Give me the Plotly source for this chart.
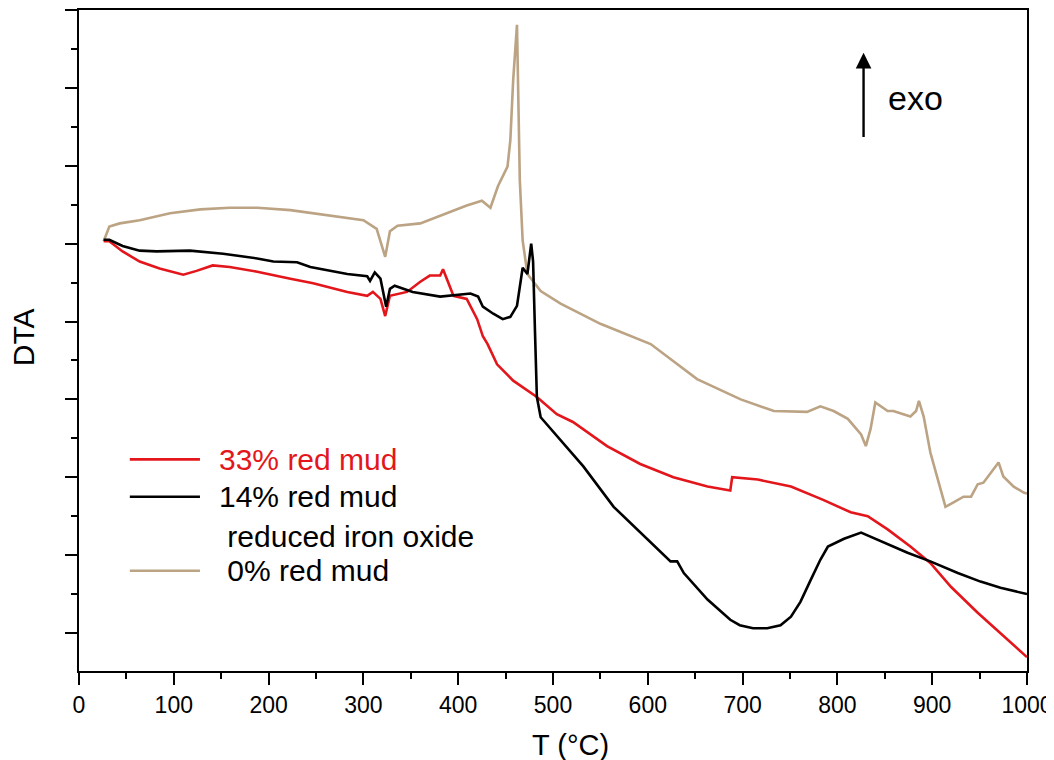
import plotly.graph_objects as go

# ---- data (DTA in arbitrary units) ----
T_0 = [26, 32, 43, 64, 96, 128, 159, 188, 223, 247, 300, 314, 323, 328, 336, 360, 388, 409, 425, 434,
       442, 452, 455, 458, 462, 463, 465, 468, 473, 487, 508, 550, 603, 652, 698, 733, 768, 782, 796, 811,
       825, 830, 835, 840, 853, 859, 877, 883, 886, 891, 898, 906, 914, 923, 933, 941, 948, 954, 962, 970,
       975, 986, 997, 1000]
DTA_0 = [50.3, 52.2, 52.6, 53.0, 53.9, 54.4, 54.6, 54.6, 54.3, 53.9, 53.0, 51.9, 48.3, 51.6, 52.3, 52.6, 53.9, 54.9, 55.5, 54.6,
         57.4, 59.9, 63.3, 71.0, 78.1, 71.0, 58.1, 50.4, 46.1, 43.9, 42.3, 39.7, 37.1, 32.6, 30.0, 28.5, 28.4, 29.1, 28.5, 27.5,
         25.5, 24.0, 26.2, 29.6, 28.5, 28.5, 27.8, 28.5, 29.8, 27.8, 23.2, 19.7, 16.2, 16.8, 17.5, 17.5, 19.1, 19.3, 20.6, 21.9,
         20.1, 18.8, 18.0, 17.9]

T_33 = [26, 32, 46, 64, 85, 110, 124, 141, 159, 188, 223, 247, 283, 304, 310, 318, 323, 328, 346, 360,
        370, 381, 384, 388, 395, 409, 420, 426, 431, 441, 458, 483, 504, 521, 557, 592, 627, 663, 687, 689,
        716, 751, 785, 814, 832, 853, 877, 898, 920, 948, 972, 1000]
DTA_33 = [50.3, 50.3, 49.0, 47.7, 46.8, 46.0, 46.5, 47.2, 47.0, 46.4, 45.5, 44.9, 43.8, 43.3, 43.8, 42.9, 40.7, 43.3, 43.8, 45.1,
          45.9, 45.9, 46.7, 45.5, 43.3, 42.9, 40.3, 38.1, 37.1, 34.5, 32.4, 30.3, 28.1, 27.1, 24.0, 21.7, 20.0, 18.8, 18.3, 20.0,
          19.7, 18.8, 17.1, 15.5, 15.0, 13.3, 11.1, 9.0, 5.9, 2.6, 0.0, -3.1]

T_14 = [26, 32, 46, 64, 82, 117, 152, 188, 205, 230, 244, 283, 304, 307, 312, 318, 324, 328, 333, 352,
        381, 413, 421, 426, 437, 447, 455, 462, 468, 473, 477, 479, 481, 483, 487, 500, 504, 532, 564, 592,
        624, 631, 638, 663, 687, 697, 711, 726, 740, 751, 761, 771, 782, 790, 807, 825, 849, 874, 898, 927,
        951, 972, 1000]
DTA_14 = [50.5, 50.5, 49.7, 49.1, 49.0, 49.1, 48.7, 48.1, 47.7, 47.6, 47.0, 46.1, 45.8, 45.2, 46.3, 45.5, 41.9, 44.2, 44.6, 43.8,
          43.2, 43.6, 43.2, 41.9, 41.0, 40.3, 40.6, 42.0, 46.9, 46.1, 50.0, 47.7, 38.7, 30.3, 27.7, 25.9, 25.3, 21.4, 16.2, 12.9,
          9.2, 9.2, 7.7, 4.3, 1.7, 1.0, 0.6, 0.6, 1.0, 2.1, 4.0, 6.6, 9.4, 11.1, 12.1, 12.9, 11.6, 10.3, 9.2, 7.7,
          6.6, 5.8, 5.0]

X_TICKS = list(range(0, 1001, 100))
Y_TICKS = list(range(0, 81, 10))

RED = "#e3161c"
BLACK = "#000000"
TAN = "#bba384"
FONT = "Arial, Liberation Sans, sans-serif"

fig = go.Figure()
fig.add_trace(go.Scatter(x=T_0, y=DTA_0, mode="lines", line=dict(color=TAN, width=2.6), showlegend=False))
fig.add_trace(go.Scatter(x=T_33, y=DTA_33, mode="lines", line=dict(color=RED, width=2.6), showlegend=False))
fig.add_trace(go.Scatter(x=T_14, y=DTA_14, mode="lines", line=dict(color=BLACK, width=2.6), showlegend=False))

# page body has an 8px margin, so the figure is offset by 8px
fig.update_layout(
    width=1046, height=752,
    margin=dict(l=71, r=27, t=2, b=89),
    paper_bgcolor="white", plot_bgcolor="white",
    font=dict(family=FONT, color="black"),
)
fig.update_xaxes(
    range=[0, 1000], tickvals=X_TICKS, ticktext=[str(v) for v in X_TICKS],
    ticks="outside", ticklen=12, tickwidth=2, tickcolor="black", automargin=False,
    minor=dict(ticks="outside", ticklen=6, tickwidth=2, tickcolor="black", dtick=50, tick0=0, showgrid=False),
    showline=True, linewidth=2, linecolor="black", mirror=True,
    showgrid=False, zeroline=False, tickfont=dict(size=23, family=FONT, color="black"),
)
fig.update_yaxes(
    range=[-4.88, 80], tickvals=Y_TICKS, showticklabels=False, automargin=False,
    ticks="outside", ticklen=12, tickwidth=2, tickcolor="black",
    minor=dict(ticks="outside", ticklen=6, tickwidth=2, tickcolor="black", dtick=5, tick0=0, showgrid=False),
    showline=True, linewidth=2, linecolor="black", mirror=True,
    showgrid=False, zeroline=False,
)

ann = []
# axis titles
ann.append(dict(text="T (°C)", xref="x", yref="paper", x=518, y=-0.112, showarrow=False,
                font=dict(size=29, family=FONT, color="black"), xanchor="center", yanchor="middle"))
ann.append(dict(text="DTA", xref="paper", yref="paper", x=-0.059, y=0.505, showarrow=False, textangle=-90,
                font=dict(size=30, family=FONT, color="black"), xanchor="center", yanchor="middle"))
# exo arrow
ann.append(dict(x=827.6, y=74.5, ax=827.6, ay=63.5, xref="x", yref="y", axref="x", ayref="y",
                showarrow=True, arrowhead=2, arrowsize=1.3, arrowwidth=2.4, arrowcolor="black", text=""))
ann.append(dict(text="exo", x=882.5, y=68.7, xref="x", yref="y", showarrow=False,
                font=dict(size=34, family=FONT, color="black"), xanchor="center", yanchor="middle"))

# legend (custom)
legend_items = [
    ("33% red mud", RED, RED, 22.3),
    ("14% red mud", BLACK, BLACK, 17.5),
    (" reduced iron oxide", None, BLACK, 12.4),
    (" 0% red mud", TAN, BLACK, 8.0),
]
shapes = []
for label, lc, tc, yv in legend_items:
    if lc is not None:
        shapes.append(dict(type="line", xref="x", yref="y", x0=53.6, x1=127.6, y0=yv, y1=yv,
                           line=dict(color=lc, width=2.6)))
    ann.append(dict(text=label, x=145.6, y=yv, xref="x", yref="y", showarrow=False,
                    xanchor="left", yanchor="middle", font=dict(size=30, family=FONT, color=tc)))

fig.update_layout(annotations=ann, shapes=shapes)
fig.write_html("out.html")
